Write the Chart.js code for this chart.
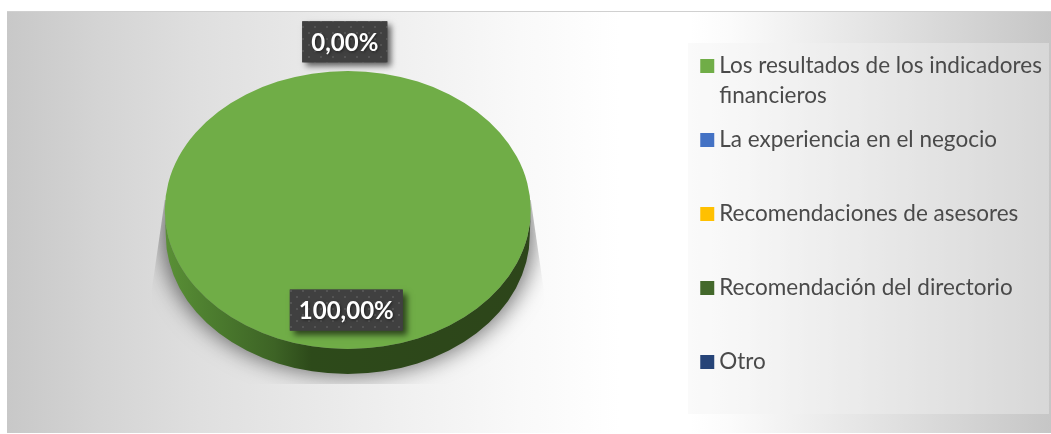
<!DOCTYPE html>
<html lang="es">
<head>
<meta charset="utf-8">
<style>html,body{margin:0;padding:0;background:#fff}#w{position:relative;width:1051px;height:434px}</style>
<script src="https://cdn.jsdelivr.net/npm/chart.js@4/dist/chart.umd.min.js"></script>
</head>
<body>
<div id="w"><canvas id="c" width="1051" height="434"></canvas></div>
<script>
const categories = ["Los resultados de los indicadores financieros","La experiencia en el negocio","Recomendaciones de asesores","Recomendación del directorio","Otro"];
const legendLines = [["Los resultados de los indicadores","financieros"],["La experiencia en el negocio"," "],["Recomendaciones de asesores"," "],["Recomendación del directorio"," "],["Otro"," "]];
const values = [100,0,0,0,0];
const colors = ["#70ad47","#4472c4","#ffc000","#43682b","#264478"];

const SQUASH = 139/183, DEPTH = 25;

function dotPattern(ctx){
  const p = document.createElement('canvas'); p.width = 12; p.height = 12;
  const g = p.getContext('2d');
  g.fillStyle = '#404040'; g.fillRect(0,0,12,12);
  g.fillStyle = '#545454';
  g.fillRect(2,2,2,2); g.fillRect(8,8,2,2);
  return ctx.createPattern(p,'repeat');
}

const scene = {
  id:'scene',
  afterLayout(chart){
    chart.legend.left = 692.5; chart.legend.right = 1051;
    chart.legend.top = 40.75; chart.legend.bottom = 434;
  },
  beforeDraw(chart){
    const c = chart.ctx;
    c.save();
    const g = c.createLinearGradient(7,0,1051,0);
    [[7,'#c8c8c8'],[100,'#d4d4d4'],[200,'#dfdfdf'],[400,'#f0f0f0'],[520,'#f9f9f9'],[620,'#ffffff'],[690,'#ffffff'],[730,'#fbfbfb'],[900,'#dfdfdf'],[1051,'#c6c6c6']]
      .forEach(([x,col])=>g.addColorStop((x-7)/1044,col));
    c.fillStyle = g; c.fillRect(7,11,1044,422);
    c.fillStyle = '#d0d0d0'; c.fillRect(7,11,1044,1);
    c.fillStyle = 'rgba(242,242,242,0.39)'; c.fillRect(688,43,361,371);
    c.restore();
  },
  beforeDatasetDraw(chart){
    const c = chart.ctx, a = chart.getDatasetMeta(0).data[0];
    const rx = a.outerRadius, ry = rx*SQUASH, x = a.x, y = a.y;
    // soft shadow, cast from an off-canvas shape and cut to a tapered outline
    c.save();
    c.beginPath();
    c.moveTo(x-rx,y-10); c.lineTo(x-rx-13,y+80); c.lineTo(x-rx-13,y+174);
    c.lineTo(x+rx+13,y+174); c.lineTo(x+rx+13,y+80); c.lineTo(x+rx,y-10);
    c.closePath(); c.clip();
    c.shadowColor = 'rgba(0,0,0,0.55)'; c.shadowBlur = 22; c.shadowOffsetX = 3000;
    c.fillStyle = '#000';
    c.beginPath(); c.ellipse(x-3000,y+DEPTH,rx+3,ry+1,0,0,Math.PI*2); c.fill();
    c.restore();
    // extruded side
    c.save();
    const g = c.createLinearGradient(x-rx,0,x+rx,0);
    g.addColorStop(0,'#5a9036'); g.addColorStop(0.12,'#4d7e2f'); g.addColorStop(0.3,'#3d6325'); g.addColorStop(0.4,'#2d4a1a'); g.addColorStop(1,'#2d451a');
    c.fillStyle = g;
    c.beginPath();
    c.ellipse(x,y,rx,ry,0,Math.PI,0,true);
    c.ellipse(x,y+DEPTH,rx-1,ry,0,0,Math.PI,false);
    c.closePath(); c.fill();
    c.restore();
    // squash the library's arcs into the tilted top face
    c.save();
    c.translate(x,y); c.scale(1,SQUASH); c.translate(-x,-y);
  },
  afterDatasetDraw(chart){ chart.ctx.restore(); },
  afterDraw(chart){
    const c = chart.ctx, arcs = chart.getDatasetMeta(0).data, seen = new Set();
    const pat = dotPattern(c);
    arcs.forEach((a,i)=>{
      const txt = values[i].toFixed(2).replace('.',',')+'%';
      if(seen.has(txt)) return; seen.add(txt);
      const mid = (a.startAngle+a.endAngle)/2, ry = a.outerRadius*SQUASH;
      const k = values[i] > 0 ? 0.72 : 1.21;
      const px = a.x + Math.cos(mid)*a.outerRadius*k - (values[i] > 0 ? 1.5 : 3);
      const py = a.y + Math.sin(mid)*ry*k;
      c.save();
      c.font = 'bold 24px Lato';
      const w = c.measureText(txt).width + 18, h = 41;
      c.shadowColor='rgba(0,0,0,0.6)'; c.shadowBlur=6; c.shadowOffsetX=4; c.shadowOffsetY=4;
      c.fillStyle='#404040'; c.fillRect(px-w/2,py-h/2,w,h);
      c.shadowColor='transparent'; c.shadowBlur=0; c.shadowOffsetX=0; c.shadowOffsetY=0;
      c.fillStyle=pat; c.fillRect(px-w/2,py-h/2,w,h);
      c.shadowColor='rgba(0,0,0,0.5)'; c.shadowBlur=3; c.shadowOffsetX=1; c.shadowOffsetY=1;
      c.fillStyle='#fff'; c.textAlign='center'; c.textBaseline='middle';
      c.fillText(txt,px,py+1);
      c.restore();
    });
  }
};

new Chart(document.getElementById('c'),{
  type:'pie',
  data:{labels:categories,datasets:[{data:values,backgroundColor:colors,borderWidth:0,radius:183,clip:false}]},
  options:{
    responsive:false,animation:false,
    layout:{padding:{left:8,top:0,bottom:14,right:4}},
    plugins:{
      tooltip:{enabled:false},
      legend:{
        position:'right',align:'start',
        labels:{
          boxWidth:1.5,boxHeight:1.5,padding:14,color:'#4a4a4a',
          font:{family:'Lato',size:22.5,lineHeight:'30px'},
          generateLabels(){
            return legendLines.map((t,i)=>({text:t,fillStyle:colors[i],strokeStyle:colors[i],lineWidth:12.5,fontColor:'#4a4a4a',hidden:false,index:i}));
          }
        }
      }
    }
  },
  plugins:[scene]
});
</script>
</body>
</html>
